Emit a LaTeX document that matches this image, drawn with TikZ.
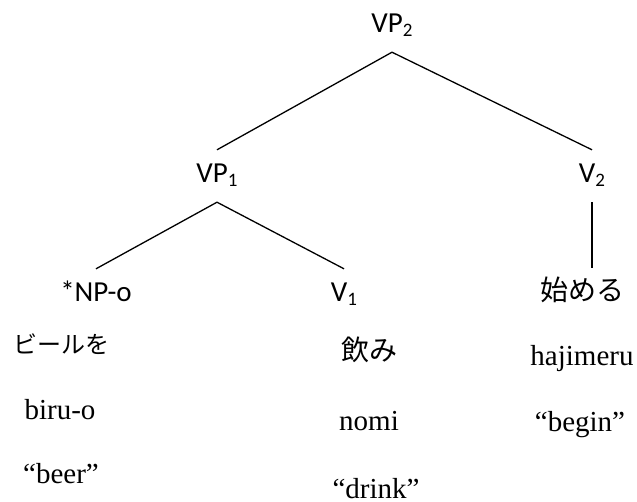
\documentclass[tikz,border=0pt]{standalone}
\usepackage{fontspec}
\setmainfont{Liberation Serif}
\newfontfamily\catfont{Carlito}
\newfontfamily\jpfont{Noto Sans CJK JP}
\newcommand{\catsub}[1]{\raisebox{-0.35ex}{\fontsize{19}{19}\selectfont #1}}
\tikzset{
  cat/.style={font=\catfont\fontsize{29}{34}\selectfont,anchor=base,text height=18pt,text depth=6pt,inner xsep=0pt,inner ysep=14pt},
  jp/.style={cat,font=\jpfont\fontsize{28}{34}\selectfont},
  gloss/.style={font=\fontsize{29}{34}\selectfont,anchor=base,inner sep=0pt},
  branch/.style={line width=1.3pt}
}

\begin{document}
\begin{tikzpicture}[x=1pt, y=-1pt]
  \useasboundingbox (0,0) rectangle (637,501);
  % Category labels
  \node[cat] (vp2) at (392, 32) {VP\catsub{2}};
  \node[cat] (vp1) at (217, 182) {VP\catsub{1}};
  \node[cat] (v2) at (592, 182) {V\catsub{2}};
  \node[cat] (np) at (96, 301) {*NP-o};
  \node[cat] (v1) at (344, 301) {V\catsub{1}};
  \node[jp] (hajime) at (582, 300) {始める};

  % Branches
  \draw[branch] (vp2.south) -- (vp1.north);
  \draw[branch] (vp2.south) -- (v2.north);
  \draw[branch] (vp1.south) -- (np.north);
  \draw[branch] (vp1.south) -- (v1.north);
  \draw[branch] (v2.south) -- (v2.south |- hajime.north);

  % Words and glosses
  \node[jp, font=\jpfont\fontsize{24}{30}\selectfont] (biru-jp) at (61, 353) {ビールを};
  \node[jp] (nomi-jp) at (369, 360) {飲み};
  \node[gloss] (hajime-rom) at (582, 365) {hajimeru};
  \node[gloss] (biru-rom) at (60, 419) {biru-o};
  \node[gloss] (nomi-rom) at (369, 430) {nomi};
  \node[gloss] (hajime-en) at (580, 431) {“begin”};
  \node[gloss] (biru-en) at (61, 483) {“beer”};
  \node[gloss] (nomi-en) at (376, 498) {“drink”};
\end{tikzpicture}
\end{document}
